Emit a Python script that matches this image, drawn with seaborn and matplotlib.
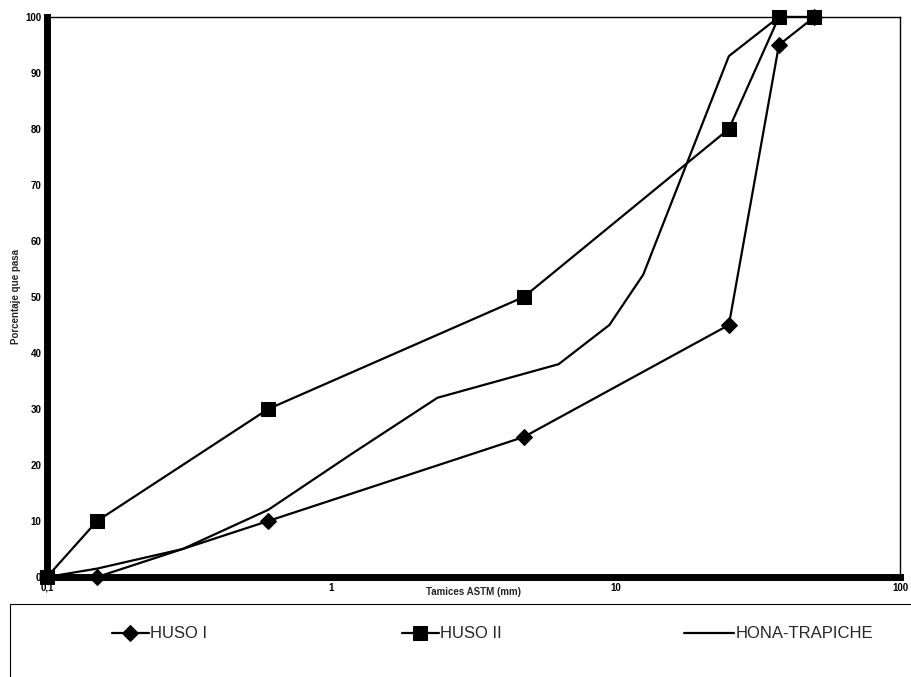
import numpy as np
import pandas as pd
import matplotlib
matplotlib.use('Agg')
import matplotlib.pyplot as plt
import matplotlib.ticker as mticker
from matplotlib.patches import Rectangle
from matplotlib import font_manager
import seaborn as sns

sns.set_style('white')
plt.rcParams['font.family'] = ['Liberation Sans', 'DejaVu Sans']

# Curvas granulometricas (tamiz en mm, % que pasa)
huso1_x = [0.15, 0.6, 4.75, 25, 37.5, 50]
huso1_y = [0, 10, 25, 45, 95, 100]

huso2_x = [0.1, 0.15, 0.6, 4.75, 25, 37.5, 50]
huso2_y = [0, 10, 30, 50, 80, 100, 100]

hona_x = [0.1, 0.15, 0.3, 0.6, 1.18, 2.36, 6.3, 9.5, 12.5, 25, 37.5]
hona_y = [0, 1.5, 5, 12, 22, 32, 38, 45, 54, 93, 100]

x_ticks = [0.1, 1, 10, 100]
x_labels = ['0,1', '1', '10', '100']
y_ticks = list(range(0, 101, 10))

fig = plt.figure(figsize=(9.11, 6.77), dpi=100)
ax = fig.add_axes([0.0516, 0.1477, 0.9364, 0.8273])
ax.set_xscale('log')

df1 = pd.DataFrame({'x': huso1_x, 'y': huso1_y})
df2 = pd.DataFrame({'x': huso2_x, 'y': huso2_y})
df3 = pd.DataFrame({'x': hona_x, 'y': hona_y})

sns.lineplot(data=df1, x='x', y='y', ax=ax, color='black', lw=1.6, marker='D',
             markersize=8, markeredgecolor='black', sort=False, estimator=None,
             label='HUSO I', clip_on=False)
sns.lineplot(data=df2, x='x', y='y', ax=ax, color='black', lw=1.6, marker='s',
             markersize=10, markeredgecolor='black', sort=False, estimator=None,
             label='HUSO II', clip_on=False)
sns.lineplot(data=df3, x='x', y='y', ax=ax, color='black', lw=1.6,
             sort=False, estimator=None, label='HONA-TRAPICHE', clip_on=False)

ax.set_xlim(0.1, 100)
ax.set_ylim(0, 100)
ax.xaxis.set_major_locator(mticker.FixedLocator(x_ticks))
ax.xaxis.set_major_formatter(mticker.FixedFormatter(x_labels))
ax.xaxis.set_minor_locator(mticker.NullLocator())
ax.set_yticks(y_ticks)

for sp in ['left', 'bottom']:
    ax.spines[sp].set_linewidth(5)
for sp in ['top', 'right']:
    ax.spines[sp].set_linewidth(1)
for sp in ax.spines.values():
    sp.set_color('black')

ax.tick_params(axis='both', direction='out', length=3, width=2, colors='black',
               labelsize=7, pad=1)
for lab in ax.get_xticklabels() + ax.get_yticklabels():
    lab.set_fontweight('bold')

ax.set_xlabel('Tamices ASTM (mm)', fontsize=7, fontweight='bold', labelpad=-4)
ax.set_ylabel('Porcentaje que pasa', fontsize=7, fontweight='bold', labelpad=3)

# fuente estrecha para la leyenda si esta instalada
nombres = {f.name for f in font_manager.fontManager.ttflist}
if 'Liberation Sans Narrow' in nombres:
    leg_prop = {'family': 'Liberation Sans Narrow', 'size': 13.5}
else:
    leg_prop = {'size': 12}

# leyenda: marco abierto por la derecha y abajo, como en el original
handles, labels = ax.get_legend_handles_labels()
ax.get_legend().remove()
fig.patches.append(Rectangle((10 / 911, -0.05), 1.0, 0.05 + 73 / 677,
                             transform=fig.transFigure, fill=False,
                             edgecolor='black', lw=0.8))
leg_x = [112 / 911, 402 / 911, 684 / 911]
leg_len = [2.2, 2.2, 3.0]
for h, l, lx, hl in zip(handles, labels, leg_x, leg_len):
    fig.legend([h], [l], loc='center left', bbox_to_anchor=(lx, 43 / 677),
               frameon=False, prop=leg_prop, handlelength=hl,
               handletextpad=0.1, borderpad=0, borderaxespad=0)

fig.savefig('out.png', dpi=100)
